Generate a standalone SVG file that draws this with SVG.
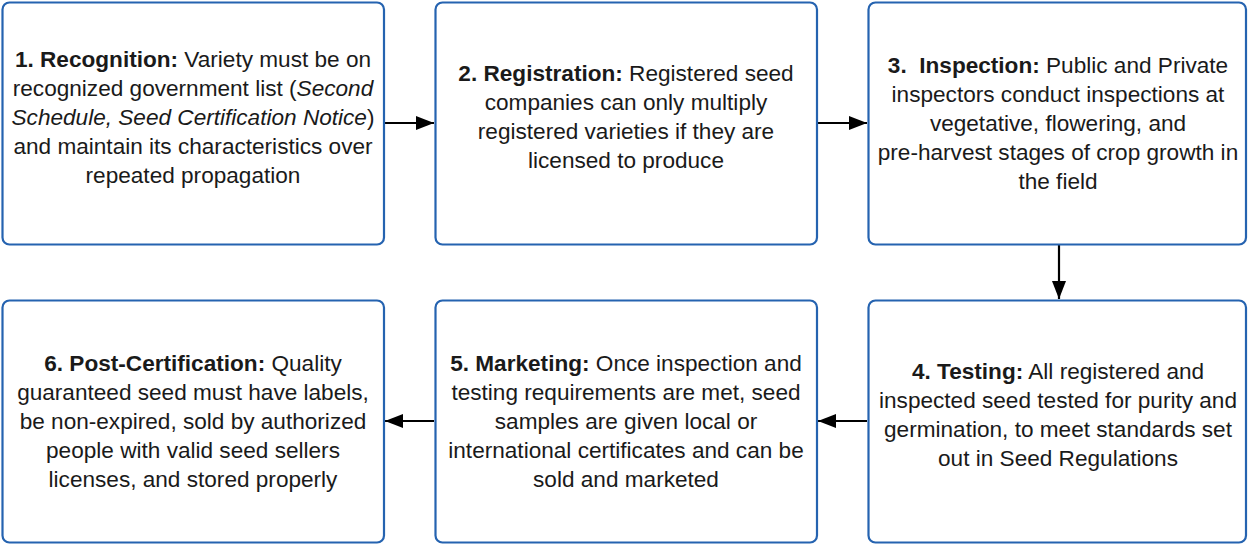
<svg xmlns="http://www.w3.org/2000/svg" width="1248" height="544" viewBox="0 0 1248 544">
<style>
.box{fill:#fff;stroke:#2563b0;stroke-width:2.2}
.t{font-family:"Liberation Sans",Arial,sans-serif;font-size:22.6px;fill:#1a1a1a;text-anchor:middle}
.b{font-weight:bold}
.i{font-style:italic}
.c{stroke:#000;stroke-width:2.2;fill:none}
</style>
<defs>
<marker id="ah" viewBox="0 0 18 14" refX="18" refY="7" markerWidth="18" markerHeight="14" markerUnits="userSpaceOnUse" orient="auto">
<path d="M0,0 L18,7 L0,14 Z" fill="#000"/>
</marker>
</defs>
<rect width="1248" height="544" fill="#fff"/>
<g id="connectors">
<line class="c" x1="385" y1="123" x2="434" y2="123" marker-end="url(#ah)"/>
<line class="c" x1="818" y1="123" x2="867" y2="123" marker-end="url(#ah)"/>
<line class="c" x1="1059" y1="245" x2="1059" y2="299" marker-end="url(#ah)"/>
<line class="c" x1="867" y1="421" x2="818" y2="421" marker-end="url(#ah)"/>
<line class="c" x1="434" y1="421" x2="385" y2="421" marker-end="url(#ah)"/>
</g>
<g id="n1">
<rect class="box" x="2.5" y="2.5" width="381.5" height="242" rx="7"/>
<text class="t"><tspan x="193" y="67"><tspan class="b">1. Recognition:</tspan> Variety must be on</tspan><tspan x="193" y="96">recognized government list (<tspan class="i">Second</tspan></tspan><tspan x="193" y="125"><tspan class="i">Schedule, Seed Certification Notice</tspan>)</tspan><tspan x="193" y="154">and maintain its characteristics over</tspan><tspan x="193" y="183">repeated propagation</tspan></text>
</g>
<g id="n2">
<rect class="box" x="435.5" y="2.5" width="381.5" height="242" rx="7"/>
<text class="t"><tspan x="626" y="81"><tspan class="b">2. Registration:</tspan> Registered seed</tspan><tspan x="626" y="110">companies can only multiply</tspan><tspan x="626" y="139">registered varieties if they are</tspan><tspan x="626" y="168">licensed to produce</tspan></text>
</g>
<g id="n3">
<rect class="box" x="868.5" y="2.5" width="377.5" height="242" rx="7"/>
<text class="t"><tspan x="1058" y="73"><tspan class="b">3.&#160; Inspection:</tspan> Public and Private</tspan><tspan x="1058" y="102">inspectors conduct inspections at</tspan><tspan x="1058" y="131">vegetative, flowering, and</tspan><tspan x="1058" y="160">pre-harvest stages of crop growth in</tspan><tspan x="1058" y="189">the field</tspan></text>
</g>
<g id="n4">
<rect class="box" x="868.5" y="300.5" width="377.5" height="242" rx="7"/>
<text class="t"><tspan x="1058" y="379"><tspan class="b">4. Testing:</tspan> All registered and</tspan><tspan x="1058" y="408">inspected seed tested for purity and</tspan><tspan x="1058" y="437">germination, to meet standards set</tspan><tspan x="1058" y="466">out in Seed Regulations</tspan></text>
</g>
<g id="n5">
<rect class="box" x="435.5" y="300.5" width="381.5" height="242" rx="7"/>
<text class="t"><tspan x="626" y="371"><tspan class="b">5. Marketing:</tspan> Once inspection and</tspan><tspan x="626" y="400">testing requirements are met, seed</tspan><tspan x="626" y="429">samples are given local or</tspan><tspan x="626" y="458">international certificates and can be</tspan><tspan x="626" y="487">sold and marketed</tspan></text>
</g>
<g id="n6">
<rect class="box" x="2.5" y="300.5" width="381.5" height="242" rx="7"/>
<text class="t"><tspan x="193" y="371"><tspan class="b">6. Post-Certification:</tspan> Quality</tspan><tspan x="193" y="400">guaranteed seed must have labels,</tspan><tspan x="193" y="429">be non-expired, sold by authorized</tspan><tspan x="193" y="458">people with valid seed sellers</tspan><tspan x="193" y="487">licenses, and stored properly</tspan></text>
</g>
</svg>
